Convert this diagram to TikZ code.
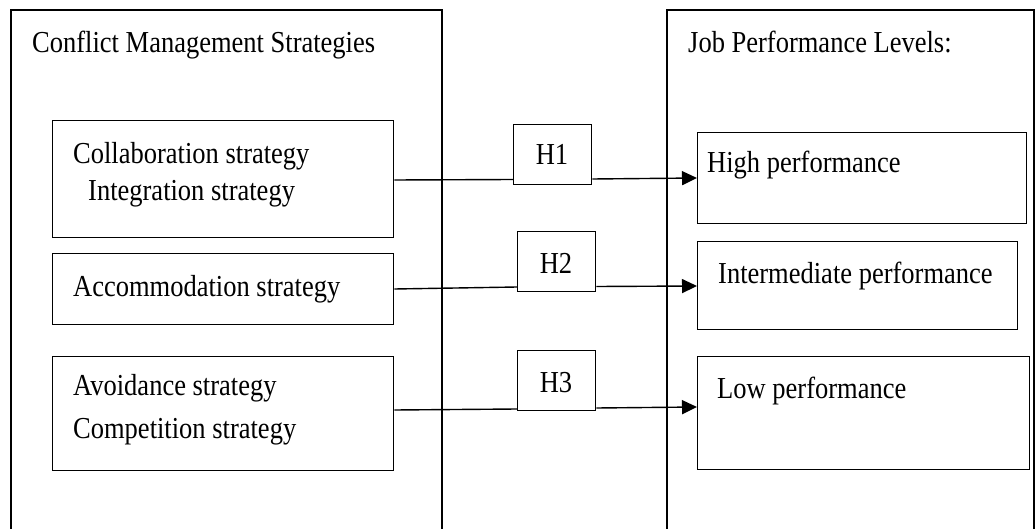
\documentclass[tikz,border=0pt]{standalone}
\usepackage{fontspec}
\usepackage{graphicx}
\setmainfont{Liberation Serif}
\usetikzlibrary{arrows.meta,calc}
\newcommand{\tallt}[1]{\scalebox{1}[1.15]{#1}}
\begin{document}
\begin{tikzpicture}[x=1pt,y=-1pt,
  box/.style={draw,line width=1.4pt,inner sep=0pt,anchor=north west},
  lbl/.style={anchor=base west,inner sep=0pt,font=\fontsize{26.5}{30}\selectfont},
  hlbl/.style={anchor=base,inner sep=0pt,font=\fontsize{26.5}{30}\selectfont},
  conn/.style={line width=1.4pt},
  arr/.style={line width=1.4pt,-{Triangle[length=15pt,width=14pt]}}]
\useasboundingbox (0,0) rectangle (1035,529);
% outer boxes (open at bottom)
\draw[line width=1.4pt] (11,540) -- (11,10) -- (442,10) -- (442,540);
\draw[line width=1.4pt] (667,540) -- (667,10) -- (1034,10) -- (1034,540);
\node[lbl] (tl) at (32,53) {\tallt{Conflict Management Strategies}};
\node[lbl] (tr) at (688,53) {\tallt{Job Performance Levels:}};
% left boxes
\node[box,minimum width=341pt,minimum height=117pt] (L1) at (52,120) {};
\node[box,minimum width=341pt,minimum height=71pt] (L2) at (52,253) {};
\node[box,minimum width=341pt,minimum height=114pt] (L3) at (52,356) {};
\node[lbl] (l1a) at (73,164) {\tallt{Collaboration strategy}};
\node[lbl] (l1b) at (88,201) {\tallt{Integration strategy}};
\node[lbl] (l2a) at (73,296) {\tallt{Accommodation strategy}};
\node[lbl] (l3a) at (73,395) {\tallt{Avoidance strategy}};
\node[lbl] (l3b) at (73,438) {\tallt{Competition strategy}};
% right boxes
\node[box,minimum width=329pt,minimum height=91pt] (R1) at (697,132) {};
\node[box,minimum width=320pt,minimum height=88pt] (R2) at (697,241) {};
\node[box,minimum width=332pt,minimum height=113pt] (R3) at (697,356) {};
\node[lbl] (r1a) at (707,173) {\tallt{High performance}};
\node[lbl] (r2a) at (718,283) {\tallt{Intermediate performance}};
\node[lbl] (r3a) at (717,398) {\tallt{Low performance}};
% hypothesis boxes
\node[box,minimum width=78pt,minimum height=60pt] (H1) at (513,124) {};
\node[box,minimum width=78pt,minimum height=60pt] (H2) at (517,231) {};
\node[box,minimum width=78pt,minimum height=60pt] (H3) at (517,350) {};
\node[hlbl] (h1t) at (552,165) {\tallt{H1}};
\node[hlbl] (h2t) at (556,273) {\tallt{H2}};
\node[hlbl] (h3t) at (556,392) {\tallt{H3}};
% connector end points
\coordinate (a1) at (L1.east |- 0,180);
\coordinate (b1) at (H1.west |- 0,179.5);
\coordinate (c1) at (H1.east |- 0,179);
\coordinate (d1) at (R1.west |- 0,178);
\coordinate (a2) at (L2.east |- 0,289);
\coordinate (b2) at (H2.west |- 0,287);
\coordinate (c2) at (H2.east |- 0,286.5);
\coordinate (d2) at (R2.west |- 0,286);
\coordinate (a3) at (L3.east |- 0,410);
\coordinate (b3) at (H3.west |- 0,409);
\coordinate (c3) at (H3.east |- 0,408);
\coordinate (d3) at (R3.west |- 0,407);
\draw[conn] (a1) -- (b1);
\draw[arr] (c1) -- (d1);
\draw[conn] (a2) -- (b2);
\draw[arr] (c2) -- (d2);
\draw[conn] (a3) -- (b3);
\draw[arr] (c3) -- (d3);
\end{tikzpicture}
\end{document}
